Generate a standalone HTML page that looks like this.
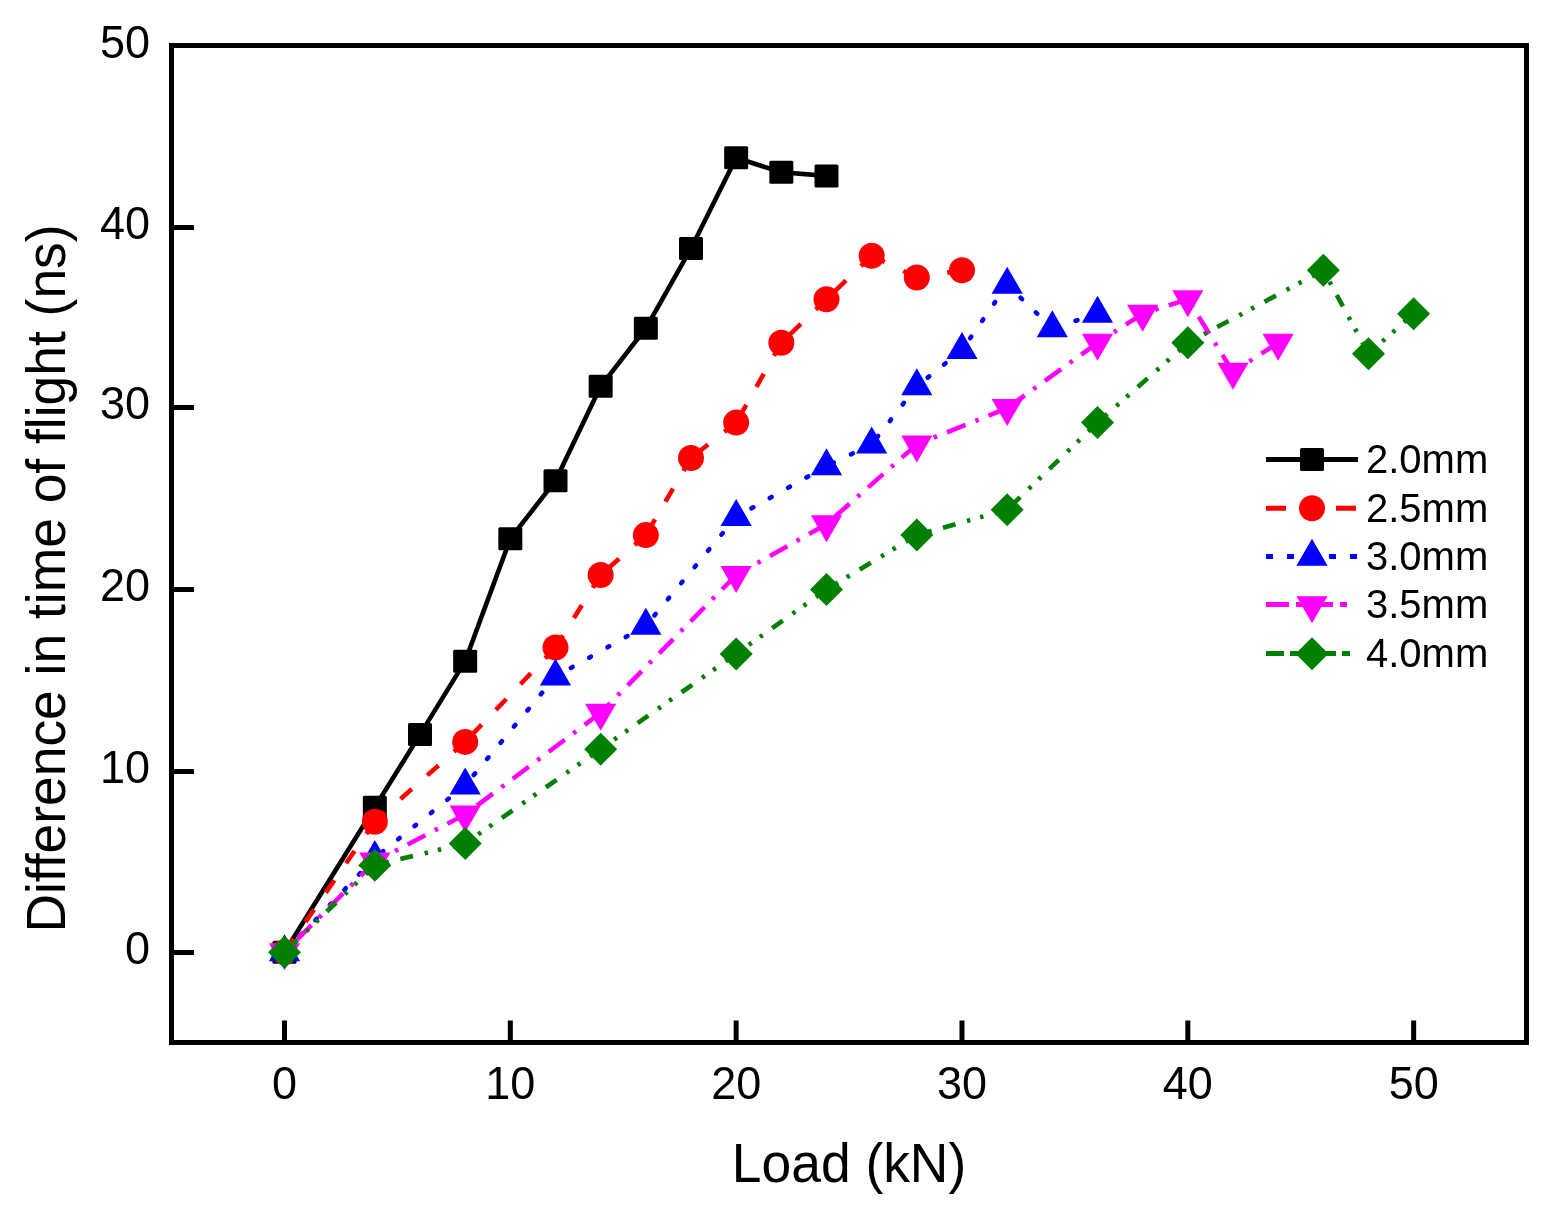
<!DOCTYPE html>
<html><head><meta charset="utf-8"><title>Difference in time of flight vs Load</title>
<style>
html,body{margin:0;padding:0;background:#fff;}
svg{display:block;}
text{font-family:"Liberation Sans",Arial,sans-serif;fill:#000;}
.tk{font-size:45px;}
.lg{font-size:40px;}
.ti{font-size:53.4px;}
</style></head><body>
<svg width="1554" height="1214" viewBox="0 0 1554 1214">
<rect width="1554" height="1214" fill="#fff"/>
<rect x="171.5" y="45.5" width="1355" height="997" fill="none" stroke="#000" stroke-width="5"/>
<path d="M284.5 1042.5V1020.5M510.33 1042.5V1020.5M736.16 1042.5V1020.5M961.99 1042.5V1020.5M1187.82 1042.5V1020.5M1413.65 1042.5V1020.5M171.5 952.5H194M171.5 771.5H194M171.5 589.5H194M171.5 407.5H194M171.5 227.5H194" stroke="#000" stroke-width="5" fill="none"/>
<polyline points="284.5,952.3 374.83,807.18 420,734.62 465.16,661.15 510.33,538.71 555.5,480.66 600.66,386.33 645.83,328.28 690.99,248.47 736.16,157.77 781.33,172.28 826.49,175.91" fill="none" stroke="#000000" stroke-width="4.6" stroke-linejoin="round"/>
<rect x="272.5" y="940.8" width="24" height="23" rx="1.5" fill="#000000"/><rect x="362.83" y="795.68" width="24" height="23" rx="1.5" fill="#000000"/><rect x="408" y="723.12" width="24" height="23" rx="1.5" fill="#000000"/><rect x="453.16" y="649.65" width="24" height="23" rx="1.5" fill="#000000"/><rect x="498.33" y="527.21" width="24" height="23" rx="1.5" fill="#000000"/><rect x="543.5" y="469.16" width="24" height="23" rx="1.5" fill="#000000"/><rect x="588.66" y="374.83" width="24" height="23" rx="1.5" fill="#000000"/><rect x="633.83" y="316.78" width="24" height="23" rx="1.5" fill="#000000"/><rect x="678.99" y="236.97" width="24" height="23" rx="1.5" fill="#000000"/><rect x="724.16" y="146.27" width="24" height="23" rx="1.5" fill="#000000"/><rect x="769.33" y="160.78" width="24" height="23" rx="1.5" fill="#000000"/><rect x="814.49" y="164.41" width="24" height="23" rx="1.5" fill="#000000"/>
<g stroke="#ff0000" stroke-width="4.6" stroke-linecap="butt" stroke-dasharray="15 20.6" fill="none"><line x1="374.83" y1="821.69" x2="284.5" y2="952.3"/><line x1="465.16" y1="741.88" x2="374.83" y2="821.69"/><line x1="555.5" y1="647.55" x2="465.16" y2="741.88"/><line x1="600.66" y1="574.99" x2="555.5" y2="647.55"/><line x1="645.83" y1="535.08" x2="600.66" y2="574.99"/><line x1="690.99" y1="457.98" x2="645.83" y2="535.08"/><line x1="736.16" y1="422.61" x2="690.99" y2="457.98"/><line x1="781.33" y1="342.8" x2="736.16" y2="422.61"/><line x1="826.49" y1="299.26" x2="781.33" y2="342.8"/><line x1="871.66" y1="255.72" x2="826.49" y2="299.26"/><line x1="916.82" y1="277.49" x2="871.66" y2="255.72"/><line x1="961.99" y1="270.24" x2="916.82" y2="277.49"/></g>
<circle cx="284.5" cy="952.3" r="13" fill="#ff0000"/><circle cx="374.83" cy="821.69" r="13" fill="#ff0000"/><circle cx="465.16" cy="741.88" r="13" fill="#ff0000"/><circle cx="555.5" cy="647.55" r="13" fill="#ff0000"/><circle cx="600.66" cy="574.99" r="13" fill="#ff0000"/><circle cx="645.83" cy="535.08" r="13" fill="#ff0000"/><circle cx="690.99" cy="457.98" r="13" fill="#ff0000"/><circle cx="736.16" cy="422.61" r="13" fill="#ff0000"/><circle cx="781.33" cy="342.8" r="13" fill="#ff0000"/><circle cx="826.49" cy="299.26" r="13" fill="#ff0000"/><circle cx="871.66" cy="255.72" r="13" fill="#ff0000"/><circle cx="916.82" cy="277.49" r="13" fill="#ff0000"/><circle cx="961.99" cy="270.24" r="13" fill="#ff0000"/>
<g stroke="#0000ff" stroke-width="4.6" stroke-linecap="round" stroke-dasharray="2 19" fill="none"><line x1="374.83" y1="857.97" x2="284.5" y2="952.3"/><line x1="465.16" y1="785.41" x2="374.83" y2="857.97"/><line x1="555.5" y1="676.57" x2="465.16" y2="785.41"/><line x1="645.83" y1="625.78" x2="555.5" y2="676.57"/><line x1="736.16" y1="516.94" x2="645.83" y2="625.78"/><line x1="826.49" y1="466.15" x2="736.16" y2="516.94"/><line x1="871.66" y1="444.38" x2="826.49" y2="466.15"/><line x1="916.82" y1="386.33" x2="871.66" y2="444.38"/><line x1="961.99" y1="350.05" x2="916.82" y2="386.33"/><line x1="1007.16" y1="284.75" x2="961.99" y2="350.05"/><line x1="1052.32" y1="328.28" x2="1007.16" y2="284.75"/><line x1="1097.49" y1="313.77" x2="1052.32" y2="328.28"/></g>
<polygon points="284.5,934.3 300.1,961.3 268.9,961.3" fill="#0000ff"/><polygon points="374.83,839.97 390.43,866.97 359.23,866.97" fill="#0000ff"/><polygon points="465.16,767.41 480.76,794.41 449.56,794.41" fill="#0000ff"/><polygon points="555.5,658.57 571.1,685.57 539.9,685.57" fill="#0000ff"/><polygon points="645.83,607.78 661.43,634.78 630.23,634.78" fill="#0000ff"/><polygon points="736.16,498.94 751.76,525.94 720.56,525.94" fill="#0000ff"/><polygon points="826.49,448.15 842.09,475.15 810.89,475.15" fill="#0000ff"/><polygon points="871.66,426.38 887.26,453.38 856.06,453.38" fill="#0000ff"/><polygon points="916.82,368.33 932.42,395.33 901.22,395.33" fill="#0000ff"/><polygon points="961.99,332.05 977.59,359.05 946.39,359.05" fill="#0000ff"/><polygon points="1007.16,266.75 1022.76,293.75 991.56,293.75" fill="#0000ff"/><polygon points="1052.32,310.28 1067.92,337.28 1036.72,337.28" fill="#0000ff"/><polygon points="1097.49,295.77 1113.09,322.77 1081.89,322.77" fill="#0000ff"/>
<g stroke="#ff00ff" stroke-width="4.6" stroke-linecap="butt" stroke-dasharray="20 10.65 3.6 10.65" fill="none"><line x1="374.83" y1="861.6" x2="284.5" y2="952.3"/><line x1="465.16" y1="814.44" x2="374.83" y2="861.6"/><line x1="600.66" y1="712.85" x2="465.16" y2="814.44"/><line x1="736.16" y1="574.99" x2="600.66" y2="712.85"/><line x1="826.49" y1="524.2" x2="736.16" y2="574.99"/><line x1="916.82" y1="444.38" x2="826.49" y2="524.2"/><line x1="1007.16" y1="408.1" x2="916.82" y2="444.38"/><line x1="1097.49" y1="342.8" x2="1007.16" y2="408.1"/><line x1="1142.65" y1="313.77" x2="1097.49" y2="342.8"/><line x1="1187.82" y1="299.26" x2="1142.65" y2="313.77"/><line x1="1232.99" y1="371.82" x2="1187.82" y2="299.26"/><line x1="1278.15" y1="342.8" x2="1232.99" y2="371.82"/></g>
<polygon points="268.9,943.3 300.1,943.3 284.5,970.3" fill="#ff00ff"/><polygon points="359.23,852.6 390.43,852.6 374.83,879.6" fill="#ff00ff"/><polygon points="449.56,805.44 480.76,805.44 465.16,832.44" fill="#ff00ff"/><polygon points="585.06,703.85 616.26,703.85 600.66,730.85" fill="#ff00ff"/><polygon points="720.56,565.99 751.76,565.99 736.16,592.99" fill="#ff00ff"/><polygon points="810.89,515.2 842.09,515.2 826.49,542.2" fill="#ff00ff"/><polygon points="901.22,435.38 932.42,435.38 916.82,462.38" fill="#ff00ff"/><polygon points="991.56,399.1 1022.76,399.1 1007.16,426.1" fill="#ff00ff"/><polygon points="1081.89,333.8 1113.09,333.8 1097.49,360.8" fill="#ff00ff"/><polygon points="1127.05,304.77 1158.25,304.77 1142.65,331.77" fill="#ff00ff"/><polygon points="1172.22,290.26 1203.42,290.26 1187.82,317.26" fill="#ff00ff"/><polygon points="1217.39,362.82 1248.59,362.82 1232.99,389.82" fill="#ff00ff"/><polygon points="1262.55,333.8 1293.75,333.8 1278.15,360.8" fill="#ff00ff"/>
<g stroke="#008000" stroke-width="4.6" stroke-linecap="butt" stroke-dasharray="13 11.7 3.4 10.2 3.4 12" fill="none"><line x1="374.83" y1="865.23" x2="284.5" y2="952.3"/><line x1="465.16" y1="843.46" x2="374.83" y2="865.23"/><line x1="600.66" y1="749.13" x2="465.16" y2="843.46"/><line x1="736.16" y1="653.9" x2="600.66" y2="749.13"/><line x1="826.49" y1="589.5" x2="736.16" y2="653.9"/><line x1="916.82" y1="535.08" x2="826.49" y2="589.5"/><line x1="1007.16" y1="509.68" x2="916.82" y2="535.08"/><line x1="1097.49" y1="422.61" x2="1007.16" y2="509.68"/><line x1="1187.82" y1="342.8" x2="1097.49" y2="422.61"/><line x1="1323.32" y1="270.24" x2="1187.82" y2="342.8"/><line x1="1368.48" y1="353.68" x2="1323.32" y2="270.24"/><line x1="1413.65" y1="313.77" x2="1368.48" y2="353.68"/></g>
<polygon points="284.5,935.8 301,952.3 284.5,968.8 268,952.3" fill="#008000"/><polygon points="374.83,848.73 391.33,865.23 374.83,881.73 358.33,865.23" fill="#008000"/><polygon points="465.16,826.96 481.66,843.46 465.16,859.96 448.66,843.46" fill="#008000"/><polygon points="600.66,732.63 617.16,749.13 600.66,765.63 584.16,749.13" fill="#008000"/><polygon points="736.16,637.4 752.66,653.9 736.16,670.4 719.66,653.9" fill="#008000"/><polygon points="826.49,573 842.99,589.5 826.49,606 809.99,589.5" fill="#008000"/><polygon points="916.82,518.58 933.32,535.08 916.82,551.58 900.32,535.08" fill="#008000"/><polygon points="1007.16,493.18 1023.66,509.68 1007.16,526.18 990.66,509.68" fill="#008000"/><polygon points="1097.49,406.11 1113.99,422.61 1097.49,439.11 1080.99,422.61" fill="#008000"/><polygon points="1187.82,326.3 1204.32,342.8 1187.82,359.3 1171.32,342.8" fill="#008000"/><polygon points="1323.32,253.74 1339.82,270.24 1323.32,286.74 1306.82,270.24" fill="#008000"/><polygon points="1368.48,337.18 1384.98,353.68 1368.48,370.18 1351.98,353.68" fill="#008000"/><polygon points="1413.65,297.27 1430.15,313.77 1413.65,330.27 1397.15,313.77" fill="#008000"/>
<line x1="1266" y1="459.5" x2="1358" y2="459.5" stroke="#000000" stroke-width="5"/><rect x="1300" y="448" width="24" height="23" rx="1.5" fill="#000000"/><text x="1366" y="473" class="lg">2.0mm</text><line x1="1266" y1="508.3" x2="1358" y2="508.3" stroke="#ff0000" stroke-width="5" stroke-dasharray="20 15"/><circle cx="1312" cy="508.3" r="13" fill="#ff0000"/><text x="1366" y="521.8" class="lg">2.5mm</text><line x1="1266" y1="556.5" x2="1358" y2="556.5" stroke="#0000ff" stroke-width="5" stroke-dasharray="7 14"/><polygon points="1312,538.7 1327.6,565.7 1296.4,565.7" fill="#0000ff"/><text x="1366" y="570" class="lg">3.0mm</text><line x1="1266" y1="604.5" x2="1350" y2="604.5" stroke="#ff00ff" stroke-width="5" stroke-dasharray="23 7 7 7"/><polygon points="1296.4,596.2 1327.6,596.2 1312,623.2" fill="#ff00ff"/><text x="1366" y="618" class="lg">3.5mm</text><line x1="1266" y1="653.4" x2="1352" y2="653.4" stroke="#008000" stroke-width="5" stroke-dasharray="18 6 8 6 8 6"/><polygon points="1312,637.2 1328.5,653.7 1312,670.2 1295.5,653.7" fill="#008000"/><text x="1366" y="666.9" class="lg">4.0mm</text>
<text transform="translate(284.5 1098.5) scale(1 1.03)" class="tk" text-anchor="middle">0</text><text transform="translate(510.33 1098.5) scale(1 1.03)" class="tk" text-anchor="middle">10</text><text transform="translate(736.16 1098.5) scale(1 1.03)" class="tk" text-anchor="middle">20</text><text transform="translate(961.99 1098.5) scale(1 1.03)" class="tk" text-anchor="middle">30</text><text transform="translate(1187.82 1098.5) scale(1 1.03)" class="tk" text-anchor="middle">40</text><text transform="translate(1413.65 1098.5) scale(1 1.03)" class="tk" text-anchor="middle">50</text><text transform="translate(150 964) scale(1 1.03)" class="tk" text-anchor="end">0</text><text transform="translate(150 783) scale(1 1.03)" class="tk" text-anchor="end">10</text><text transform="translate(150 601) scale(1 1.03)" class="tk" text-anchor="end">20</text><text transform="translate(150 419) scale(1 1.03)" class="tk" text-anchor="end">30</text><text transform="translate(150 239) scale(1 1.03)" class="tk" text-anchor="end">40</text><text transform="translate(150 58) scale(1 1.03)" class="tk" text-anchor="end">50</text>
<text transform="translate(849 1182) scale(1 1.03)" class="ti" text-anchor="middle">Load (kN)</text>
<text transform="translate(65 578.5) rotate(-90) scale(1 1.03)" class="ti" text-anchor="middle">Difference in time of flight (ns)</text>
</svg>
</body></html>
